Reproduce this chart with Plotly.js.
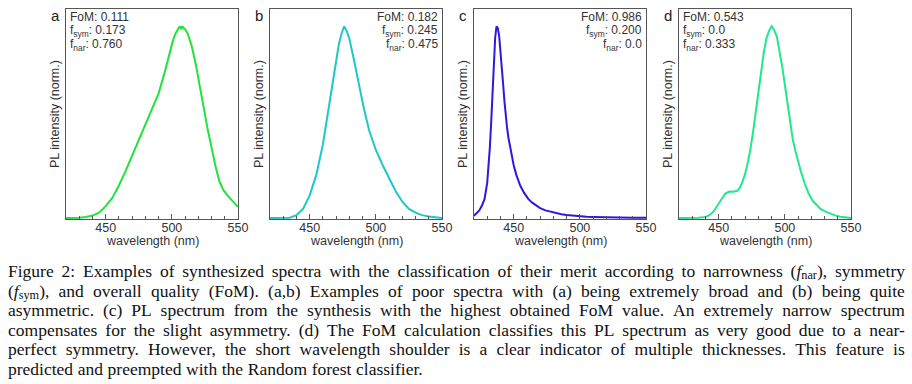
<!DOCTYPE html>
<html>
<head>
<meta charset="utf-8">
<script src="https://cdn.plot.ly/plotly-3.0.1.min.js"></script>
<style>
  html, body { margin: 0; padding: 0; background: #fff; width: 912px; height: 384px; overflow: hidden; }
  #chart { position: absolute; left: 0; top: 0; width: 912px; height: 250px; }
  #caption { position: absolute; left: 8px; top: 262px; width: 897px;
             font-family: "Liberation Serif", "Times New Roman", serif; font-size: 17.5px;
             line-height: 19.6px; color: #111; }
  #caption .ln { display: flex; justify-content: space-between; white-space: nowrap; height: 19.6px; }
  #caption .ln.last { justify-content: flex-start; gap: 4.6px; }
  #caption sub { font-size: 0.7em; vertical-align: -0.2em; line-height: 0; }
</style>
</head>
<body>
<div id="chart"></div>
<div id="caption"></div>
<script>
// ---------- data ----------
const wavelengthA = [420,425,430,435,440,445,450,455,460,465,470,475,480,485,490,495,498,501,503,505,506,507,508,509,510,512,515,518,521,524,527,530,533,536,539,542,545,548,550];
const intensityA  = [0.0,0.0,0.002,0.006,0.013,0.028,0.062,0.105,0.17,0.245,0.325,0.41,0.49,0.567,0.65,0.77,0.855,0.93,0.965,0.99,1.0,0.985,1.0,0.99,0.985,0.962,0.897,0.805,0.7,0.578,0.465,0.36,0.27,0.19,0.145,0.118,0.096,0.074,0.058];

const wavelengthB = [420,425,430,435,440,445,450,455,460,463,466,469,472,474,476,478,480,483,487,491,495,500,505,510,515,520,525,530,535,540,545,550];
const intensityB  = [0.0,0.0,0.0,0.002,0.015,0.048,0.118,0.225,0.385,0.52,0.66,0.79,0.905,0.96,1.0,0.975,0.935,0.84,0.7,0.57,0.455,0.355,0.278,0.208,0.14,0.085,0.048,0.028,0.015,0.008,0.003,0.0];

const wavelengthC = [420,422,424,426,428,430,431,432,433,434,435,436,437,438,439,440,441,442,443,444,445,446,447,448,450,452,455,458,461,464,467,470,474,478,482,486,490,495,500,505,510,515,520,530,540,550];
const intensityC  = [0.012,0.025,0.04,0.065,0.1,0.185,0.27,0.37,0.5,0.66,0.82,0.94,1.0,0.99,0.95,0.88,0.79,0.7,0.61,0.53,0.47,0.42,0.378,0.34,0.275,0.225,0.168,0.13,0.1,0.08,0.064,0.052,0.04,0.032,0.025,0.02,0.016,0.012,0.009,0.007,0.006,0.005,0.004,0.003,0.002,0.002];

const wavelengthD = [420,425,430,435,440,443,446,449,452,455,458,461,464,466,468,470,472,474,476,478,480,482,484,486,488,490,492,494,496,498,500,502,504,506,508,510,512,515,518,521,524,527,530,534,538,542,546,550];
const intensityD  = [0.0,0.0,0.0,0.001,0.006,0.015,0.033,0.065,0.1,0.128,0.138,0.137,0.142,0.158,0.19,0.23,0.29,0.36,0.45,0.55,0.66,0.765,0.86,0.935,0.975,1.0,0.98,0.945,0.875,0.79,0.695,0.595,0.49,0.41,0.35,0.295,0.245,0.18,0.128,0.09,0.066,0.048,0.036,0.024,0.014,0.007,0.003,0.0];

const panelLetters = ["a", "b", "c", "d"];
const fomValues  = ["0.111", "0.182", "0.986", "0.543"];
const fsymValues = ["0.173", "0.245", "0.200", "0.0"];
const fnarValues = ["0.760", "0.475", "0.0", "0.333"];
const lineColors = ["#22e23c", "#1ec8c8", "#2f17dc", "#1fe98c"];
const textSide   = ["left", "right", "right", "left"];
const tickValues = [450, 500, 550];
const xTitle = "wavelength (nm)";
const yTitle = "PL intensity (norm.)";

const captionLines = [
  "Figure 2: Examples of synthesized spectra with the classification of their merit according to narrowness (<i>f</i><sub>nar</sub>), symmetry",
  "(<i>f</i><sub>sym</sub>), and overall quality (FoM). (a,b) Examples of poor spectra with (a) being extremely broad and (b) being quite",
  "asymmetric. (c) PL spectrum from the synthesis with the highest obtained FoM value. An extremely narrow spectrum",
  "compensates for the slight asymmetry. (d) The FoM calculation classifies this PL spectrum as very good due to a near-",
  "perfect symmetry. However, the short wavelength shoulder is a clear indicator of multiple thicknesses. This feature is",
  "predicted and preempted with the Random forest classifier."
];

// ---------- figure ----------
const H = 250;
const plotLeft = [66, 270, 474, 679];
const plotWidth = 172;
const yDom = [1 - 219 / H, 1 - 9 / H];
const xs = [wavelengthA, wavelengthB, wavelengthC, wavelengthD];
const ys = [intensityA, intensityB, intensityC, intensityD];

const traces = [];
const layout = {
  width: 912, height: H,
  margin: {l: 0, r: 0, t: 0, b: 0},
  paper_bgcolor: "#fff", plot_bgcolor: "#fff",
  showlegend: false,
  font: {family: "Liberation Sans, Arial, sans-serif", color: "#333", size: 12},
  annotations: []
};

for (let i = 0; i < 4; i++) {
  const sfx = i === 0 ? "" : String(i + 1);
  traces.push({
    x: xs[i], y: ys[i], type: "scatter", mode: "lines",
    line: {color: lineColors[i], width: 2},
    xaxis: "x" + sfx, yaxis: "y" + sfx, hoverinfo: "skip"
  });
  layout["xaxis" + sfx] = {
    domain: [plotLeft[i] / 912, (plotLeft[i] + plotWidth) / 912],
    anchor: "y" + sfx,
    range: [420, 550],
    showline: true, mirror: true, linecolor: "#555", linewidth: 1,
    ticks: "inside", ticklen: 5, tickcolor: "#555",
    tickmode: "array", tickvals: tickValues,
    ticklabelstandoff: -3,
    tickfont: {size: 12.5, color: "#333"},
    minor: {dtick: 10, tick0: 420, ticks: "inside", ticklen: 3, tickcolor: "#555"},
    showgrid: false, zeroline: false, fixedrange: true
  };
  layout["yaxis" + sfx] = {
    domain: yDom, anchor: "x" + sfx,
    range: [-0.005, 1.09],
    showline: true, mirror: true, linecolor: "#555", linewidth: 1,
    ticks: "", showticklabels: false,
    showgrid: false, zeroline: false, fixedrange: true
  };
  const xr = "x" + sfx + " domain", yr = "y" + sfx + " domain";
  // panel letter
  layout.annotations.push({
    text: panelLetters[i], xref: xr, yref: yr, x: 0, y: 1,
    xanchor: "center", yanchor: "middle", xshift: -11, yshift: -6,
    showarrow: false, font: {size: 15, color: "#222"}
  });
  // y title
  layout.annotations.push({
    text: yTitle, xref: xr, yref: yr, x: 0, y: 0.5,
    xanchor: "center", yanchor: "middle", xshift: -11, textangle: -90,
    showarrow: false, font: {size: 12.5, color: "#333"}
  });
  // x title
  layout.annotations.push({
    text: xTitle, xref: xr, yref: "paper", x: 0.5, y: 1 - 240.5 / H,
    xanchor: "center", yanchor: "middle",
    showarrow: false, font: {size: 12.5, color: "#333"}
  });
  // FoM block
  const lines = [
    "FoM: " + fomValues[i],
    "f<sub>sym</sub>: " + fsymValues[i],
    "f<sub>nar</sub>: " + fnarValues[i]
  ];
  const left = textSide[i] === "left";
  lines.forEach((t, k) => {
    layout.annotations.push({
      text: t, xref: xr, yref: yr, x: left ? 0 : 1, y: 1,
      xanchor: left ? "left" : "right", yanchor: "middle",
      xshift: left ? 2 : -2, yshift: -7.5 - 14 * k,
      showarrow: false, font: {size: 12, color: "#333"}
    });
  });
}

Plotly.newPlot("chart", traces, layout, {staticPlot: true, displayModeBar: false});

// ---------- caption (justified lines) ----------
const cap = document.getElementById("caption");
captionLines.forEach((ln, idx) => {
  const div = document.createElement("div");
  div.className = "ln" + (idx === captionLines.length - 1 ? " last" : "");
  ln.split(" ").forEach(w => {
    const s = document.createElement("span");
    s.innerHTML = w;
    div.appendChild(s);
  });
  cap.appendChild(div);
});
</script>
</body>
</html>
